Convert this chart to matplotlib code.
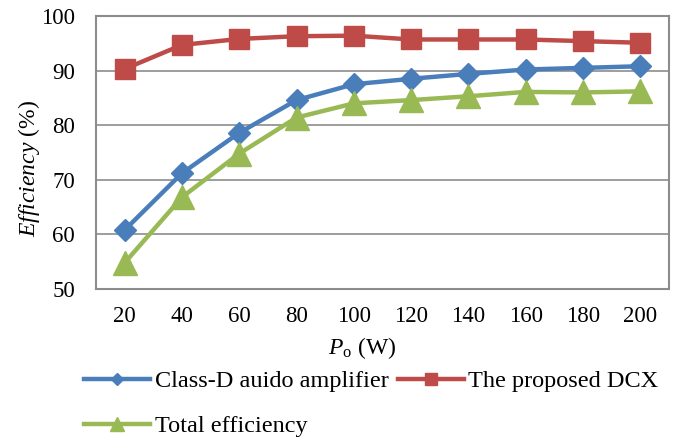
import matplotlib
matplotlib.use('Agg')
import matplotlib.pyplot as plt
import numpy as np

power = ['20', '40', '60', '80', '100', '120', '140', '160', '180', '200']
class_d = [60.8, 71.2, 78.6, 84.6, 87.5, 88.5, 89.4, 90.2, 90.5, 90.8]
dcx = [90.3, 94.7, 95.8, 96.3, 96.4, 95.7, 95.7, 95.7, 95.4, 95.1]
total = [54.8, 66.8, 74.8, 81.4, 84.0, 84.6, 85.3, 86.1, 86.0, 86.2]

plt.rcParams['font.family'] = ['Liberation Serif']
plt.rcParams['mathtext.fontset'] = 'custom'
plt.rcParams['mathtext.rm'] = 'Liberation Serif'
plt.rcParams['mathtext.it'] = 'Liberation Serif:italic'


def main():
    fig = plt.figure(figsize=(6.78, 4.41), dpi=100)
    ax = fig.add_axes([0.1416, 0.3447, 0.845, 0.6190])
    x = np.arange(len(power))

    l1, = ax.plot(x, class_d, color='#4A7EBB', lw=3.2, marker='D', ms=11,
                  label='Class-D auido amplifier')
    l2, = ax.plot(x, dcx, color='#BE4B48', lw=3.2, marker='s', ms=15,
                  label='The proposed DCX')
    l3, = ax.plot(x, total, color='#98B954', lw=3.2, marker='^', ms=17,
                  label='Total efficiency')

    ax.set_xlim(-0.5, len(power) - 0.5)
    ax.set_ylim(50, 100)
    ax.set_yticks(np.arange(50, 101, 10))
    ax.set_xticks(x)
    ax.set_xticklabels(power)
    ax.tick_params(labelsize=16.5, length=0)
    ax.tick_params(axis='x', pad=12)
    ax.tick_params(axis='y', pad=15)
    ax.grid(axis='y', color='#8C8C8C', lw=1.2)
    ax.set_axisbelow(True)
    for s in ax.spines.values():
        s.set_color('#8C8C8C')
        s.set_linewidth(1.5)

    ax.set_ylabel(r'$\mathit{Efficiency}$ (%)', fontsize=17)
    ax.yaxis.set_label_coords(-0.095, 0.44)
    ax.set_xlabel(r'$P_{\mathrm{o}}$ (W)', fontsize=17)
    ax.xaxis.set_label_coords(0.464, -0.17)

    fig.legend([l1, l3, l2], [l1.get_label(), l3.get_label(), l2.get_label()],
               ncol=2, loc='upper left', bbox_to_anchor=(0.106, 0.188),
               frameon=False, fontsize=17.5, handlelength=2.7, handletextpad=0.2,
               columnspacing=0.4, labelspacing=0.95, borderpad=0,
               markerscale=0.6)

    fig.savefig('out.png', dpi=100)


if __name__ == '__main__':
    main()
